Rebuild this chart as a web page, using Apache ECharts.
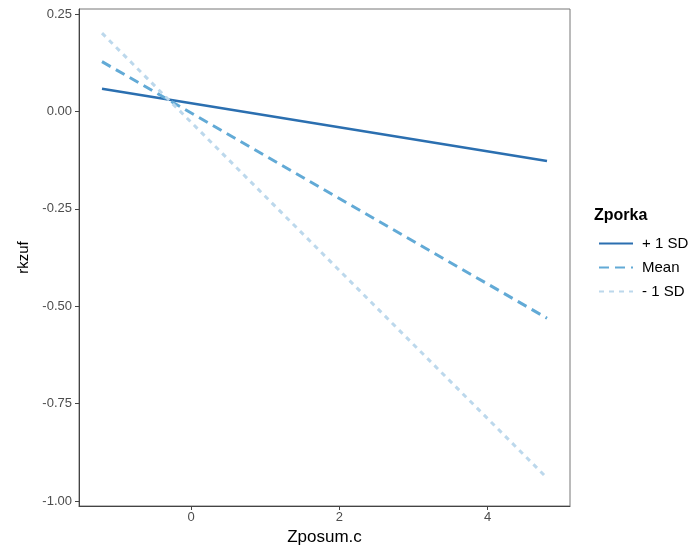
<!DOCTYPE html>
<html>
<head>
<meta charset="utf-8">
<script src="https://cdn.jsdelivr.net/npm/echarts@6/dist/echarts.min.js"></script>
<style>
  html, body { margin: 0; padding: 0; background: #fff; }
  #main { width: 697px; height: 547px; }
</style>
</head>
<body>
<div id="main"></div>
<script>
// simple slopes: two end points per line
var xRange = [-1.2, 4.8];
var plusSD = [0.058, -0.127];
var meanSD = [0.128, -0.531];
var minusSD = [0.201, -0.941];
var xTicks = [0, 2, 4];
var yTicks = [-1, -0.75, -0.5, -0.25, 0, 0.25];
var seriesNames = ['+ 1 SD', 'Mean', '- 1 SD'];

function pts(vals) {
    return xRange.map(function (x, i) { return [x, vals[i]]; });
}

var myChart = echarts.init(document.getElementById('main'));

var FONT = 'Liberation Sans';
var axisText = { color: '#4d4d4d', fontSize: 13, fontFamily: FONT };

var option = {
    animation: false,
    grid: {
        left: 79,
        top: 9,
        right: 127,
        bottom: 41,
        outerBoundsMode: 'none',
        show: true,
        borderColor: '#777',
        borderWidth: 1
    },
    xAxis: {
        type: 'value',
        min: -1.51,
        max: 5.11,
        name: 'Zposum.c',
        nameLocation: 'middle',
        nameGap: 23,
        nameTextStyle: { color: '#000', fontSize: 17, fontFamily: FONT },
        splitLine: { show: false },
        axisLine: { onZero: false, lineStyle: { color: '#444' } },
        axisTick: { show: true, length: 4, lineStyle: { color: '#444' }, customValues: xTicks },
        axisLabel: Object.assign({ margin: 5, customValues: xTicks }, axisText)
    },
    yAxis: {
        type: 'value',
        min: -1.013,
        max: 0.263,
        name: 'rkzuf',
        nameLocation: 'middle',
        nameGap: 38,
        nameRotate: 90,
        nameTextStyle: { color: '#000', fontSize: 15, fontFamily: FONT },
        splitLine: { show: false },
        axisLine: { show: true, onZero: false, lineStyle: { color: '#444' } },
        axisTick: { show: true, length: 4, lineStyle: { color: '#444' }, customValues: yTicks },
        axisLabel: Object.assign({
            margin: 7,
            customValues: yTicks,
            formatter: function (v) { return v.toFixed(2); }
        }, axisText)
    },
    legend: {
        orient: 'vertical',
        left: 593,
        top: 231,
        itemWidth: 34,
        itemHeight: 16,
        itemGap: 9,
        itemStyle: { opacity: 0 },
        textStyle: { color: '#000', fontSize: 15, fontFamily: FONT, padding: [0, 0, 0, 4] },
        data: seriesNames
    },
    graphic: [{
        type: 'text',
        left: 594,
        top: 208,
        style: { text: 'Zporka', fill: '#000', font: 'bold 16px Liberation Sans' }
    }],
    series: [{
        name: seriesNames[0],
        type: 'line',
        symbol: 'none',
        data: pts(plusSD),
        lineStyle: { color: '#2b6fb0', width: 2.5, type: 'solid' },
        itemStyle: { color: '#2b6fb0' }
    }, {
        name: seriesNames[1],
        type: 'line',
        symbol: 'none',
        data: pts(meanSD),
        lineStyle: { color: '#62aad6', width: 3, type: [10, 6] },
        itemStyle: { color: '#62aad6' }
    }, {
        name: seriesNames[2],
        type: 'line',
        symbol: 'none',
        data: pts(minusSD),
        lineStyle: { color: '#bcd8ec', width: 3, type: [5, 5] },
        itemStyle: { color: '#bcd8ec' }
    }]
};

myChart.setOption(option);
</script>
</body>
</html>
